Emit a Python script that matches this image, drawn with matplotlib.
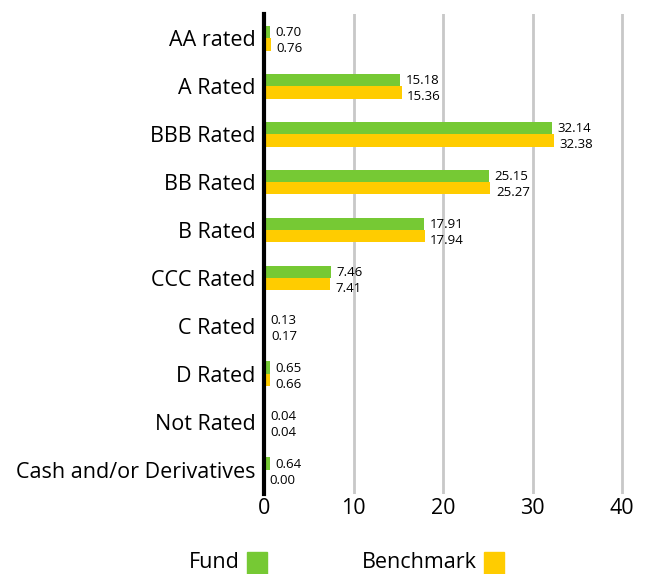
import numpy as np
import matplotlib
matplotlib.use('Agg')
import matplotlib.pyplot as plt
from matplotlib.patches import Rectangle

# データ
categories = ['AA rated', 'A Rated', 'BBB Rated', 'BB Rated', 'B Rated',
              'CCC Rated', 'C Rated', 'D Rated', 'Not Rated', 'Cash and/or Derivatives']
fund = [0.70, 15.18, 32.14, 25.15, 17.91, 7.46, 0.13, 0.65, 0.04, 0.64]
benchmark = [0.76, 15.36, 32.38, 25.27, 17.94, 7.41, 0.17, 0.66, 0.04, 0.00]
x_ticks = [0, 10, 20, 30, 40]

green = '#76C934'
yellow = '#FFCC00'

plt.rcParams['font.family'] = ['Open Sans', 'DejaVu Sans']

fig = plt.figure(figsize=(6.51, 5.74), dpi=100)
ax = fig.add_axes([0.4055, 0.1395, 0.553, 0.836])

y = np.arange(len(categories))
h = 0.26
ax.barh(y - h / 2, fund, height=h, color=green, zorder=3)
ax.barh(y + h / 2, benchmark, height=h, color=yellow, zorder=3)

# 値ラベル
for i in range(len(categories)):
    ax.annotate('{:.2f}'.format(fund[i]), (fund[i], y[i] - h / 2), xytext=(4, -0.4),
                textcoords='offset points', va='center', ha='left', fontsize=9.5)
    ax.annotate('{:.2f}'.format(benchmark[i]), (benchmark[i], y[i] + h / 2), xytext=(4, -3.2),
                textcoords='offset points', va='center', ha='left', fontsize=9.5)

ax.set_xlim(0, 40.2)
ax.set_ylim(len(categories) - 0.5, -0.5)
ax.set_yticks(y)
ax.set_yticklabels(categories, fontsize=15.5)
ax.set_xticks(x_ticks)
ax.set_xticklabels([str(t) for t in x_ticks], fontsize=15.5)
ax.tick_params(length=0, pad=3)
ax.tick_params(axis='y', pad=6)

for t in x_ticks[1:]:
    ax.axvline(t, color='#C8C8C8', lw=2, zorder=1)

for s in ['top', 'right', 'bottom']:
    ax.spines[s].set_visible(False)
ax.spines['left'].set_linewidth(3)
ax.spines['left'].set_color('black')
ax.spines['left'].set_zorder(4)

# 凡例
fig.text(240 / 651, 1 - 573 / 574, 'Fund', ha='right', va='bottom', fontsize=15.5)
fig.patches.append(Rectangle((247 / 651, 0), 20 / 651, 22 / 574, transform=fig.transFigure,
                             color=green, figure=fig))
fig.text(477 / 651, 1 - 573 / 574, 'Benchmark', ha='right', va='bottom', fontsize=15.5)
fig.patches.append(Rectangle((484 / 651, 0), 20 / 651, 22 / 574, transform=fig.transFigure,
                             color=yellow, figure=fig))

plt.savefig('out.png', dpi=100)
plt.close()
